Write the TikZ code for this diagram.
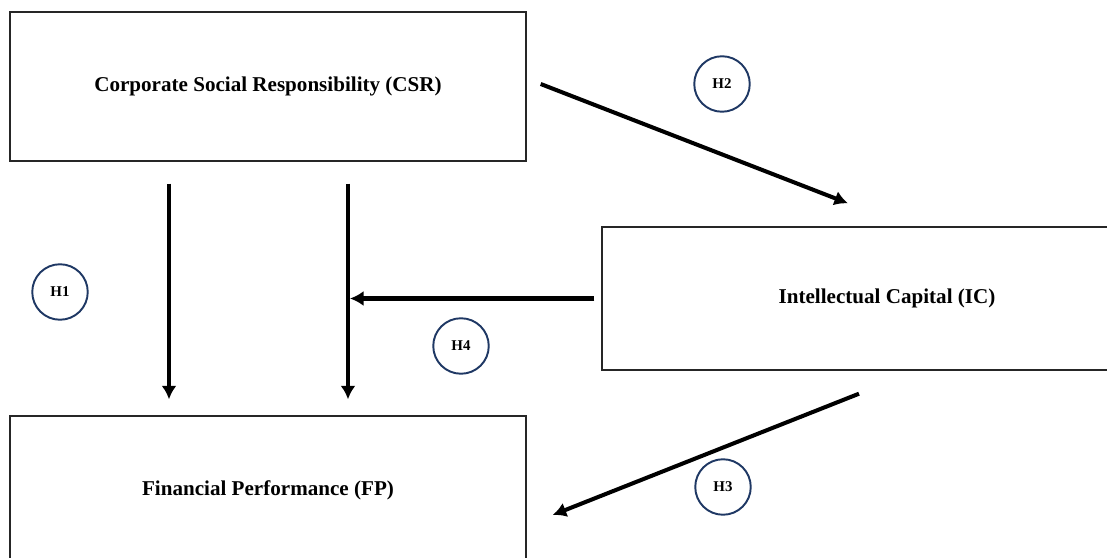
\documentclass[tikz,border=0pt]{standalone}
\usepackage{fontspec}
\setmainfont{Liberation Serif}
\usepackage{tikz}
\usetikzlibrary{positioning,arrows.meta,shapes.geometric}
\definecolor{hnavy}{HTML}{1F3864}
\tikzstyle{block} = [rectangle, draw=black!85, line width=0.8pt, minimum width=10.32cm, minimum height=2.98cm, font=\fontsize{12}{14}\selectfont\bfseries, align=center]
\tikzstyle{hyp} = [circle, draw=hnavy, line width=1.1pt, minimum size=1.11cm, inner sep=0pt, font=\fontsize{8.5}{10}\selectfont\bfseries]
\tikzstyle{arrow} = [line width=2.3pt, -{Latex[length=0.27cm,width=0.3cm]}]

\begin{document}
\begin{tikzpicture}[node distance=8.08cm]
	\useasboundingbox (0,0) rectangle (22.14,11.14);
	\node[block] (csr) at (5.36,9.41) {Corporate Social Responsibility (CSR)};
	\node[block, below of=csr] (fp) {Financial Performance (FP)};
	\node[block, minimum width=11.4cm, minimum height=2.86cm] (ic) at (17.74,5.17) {Intellectual Capital (IC)};
	\node[hyp] (h1) at (1.2,5.3) {H1};
	\node[hyp] (h2) at (14.44,9.46) {H2};
	\node[hyp] (h3) at (14.46,1.4) {H3};
	\node[hyp] (h4) at (9.22,4.22) {H4};
	\coordinate (mid) at ([xshift=1.6cm]csr.south);
	\draw[arrow, shorten <=0.44cm, shorten >=0.32cm] ([xshift=-1.98cm]csr.south) -- ([xshift=-1.98cm]fp.north);
	\draw[arrow, shorten <=0.44cm, shorten >=0.32cm] (mid) -- ([xshift=1.6cm]fp.north);
	\draw[arrow, shorten <=0.14cm, shorten >=0.04cm] (ic.west) -- (ic.west -| mid);
	\draw[arrow] ([xshift=0.28cm,yshift=0.05cm]csr.east) -- ([xshift=-0.78cm,yshift=0.46cm]ic.north);
	\draw[arrow] ([xshift=-0.56cm,yshift=-0.46cm]ic.south) -- ([xshift=0.52cm,yshift=-0.49cm]fp.east);
\end{tikzpicture}
\end{document}
